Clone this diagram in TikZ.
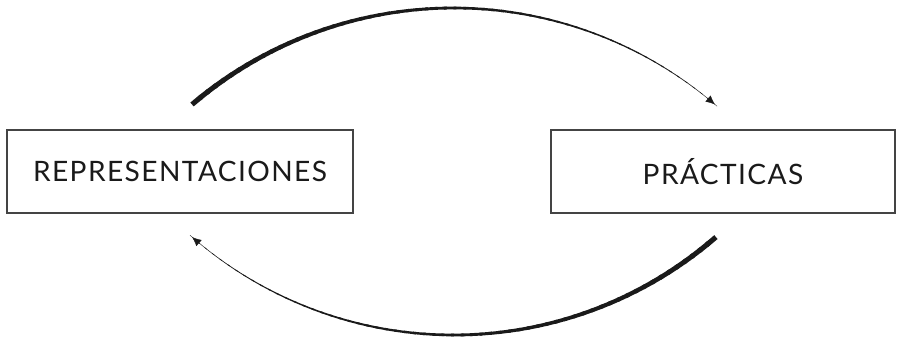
\documentclass[tikz,border=0pt]{standalone}
\usepackage{fontspec}
\setmainfont{Lato}[LetterSpace=5]
\usetikzlibrary{arrows.meta,calc}
\definecolor{boxline}{HTML}{444444}
\definecolor{ink}{HTML}{1A1A1A}
\tikzset{
  conceptbox/.style={draw=boxline,line width=0.6pt,minimum width=#1,minimum height=1.66cm,
    inner sep=0pt,text=ink,font=\fontsize{16}{19}\selectfont},
}
\begin{document}
\begin{tikzpicture}
\useasboundingbox (0,0) rectangle (18,6.74);
\coordinate (Ctop) at (9.07,-1.472);
\coordinate (Cbot) at (9.08,8.024);

\node[conceptbox=6.92cm] (R) at (3.6,3.31) {REPRESENTACIONES};
\node[conceptbox=6.88cm] (P) at (14.46,3.31) {PRÁCTICAS};

% upper arc, thick to thin
\foreach \i in {0,...,59}{
  \pgfmathsetmacro{\ta}{130.5-81*\i/60}
  \pgfmathsetmacro{\tb}{130.5-81*(\i+1.3)/60}
  \pgfmathsetmacro{\w}{2.9-2.7*\i/59}
  \draw[line width=\w pt,ink] ($(Ctop)+(\ta:8.052)$) arc[start angle=\ta,end angle=\tb,radius=8.052];
}
\draw[ink,line width=0.2pt,-{Latex[length=5.2pt,width=4.6pt]}] ($(Ctop)+(51:8.052)$) arc[start angle=51,end angle=49.5,radius=8.052];

% lower arc, thick to thin
\foreach \i in {0,...,59}{
  \pgfmathsetmacro{\ta}{-49-82*\i/60}
  \pgfmathsetmacro{\tb}{-49-82*(\i+1.3)/60}
  \pgfmathsetmacro{\w}{2.9-2.7*\i/59}
  \draw[line width=\w pt,ink] ($(Cbot)+(\ta:7.984)$) arc[start angle=\ta,end angle=\tb,radius=7.984];
}
\draw[ink,line width=0.2pt,-{Latex[length=5.2pt,width=4.6pt]}] ($(Cbot)+(-129.5:7.984)$) arc[start angle=-129.5,end angle=-131,radius=7.984];
\end{tikzpicture}
\end{document}
